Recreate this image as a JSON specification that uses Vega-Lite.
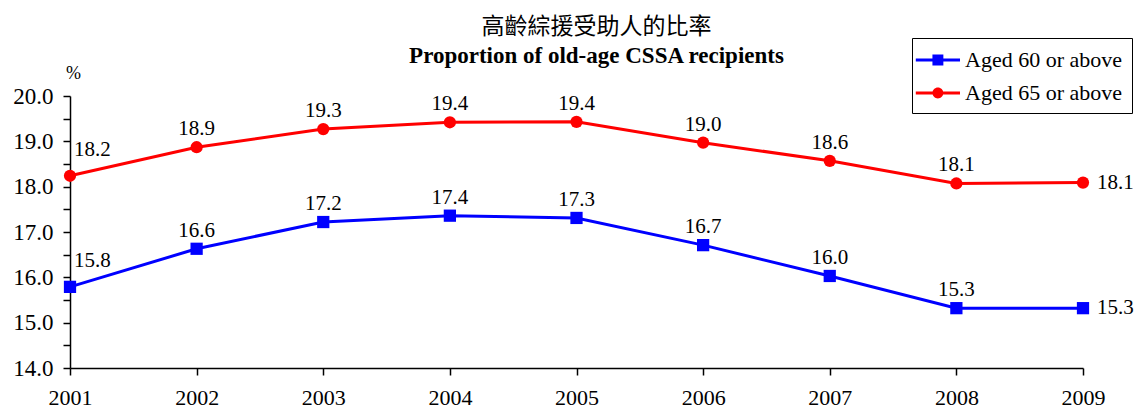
{
  "$schema": "https://vega.github.io/schema/vega-lite/v6.json",
  "width": 1013,
  "height": 272,
  "autosize": {"type": "none"},
  "padding": {"left": 70, "top": 96, "right": 62, "bottom": 44},
  "background": "white",
  "config": {
    "view": {"stroke": null},
    "font": "Liberation Serif, Times New Roman, serif"
  },
  "title": {
    "text": "高齡綜援受助人的比率",
    "subtitle": "Proportion of old-age CSSA recipients",
    "anchor": "middle",
    "dx": 20,
    "offset": -30,
    "font": "Noto Sans CJK TC",
    "fontSize": 23,
    "fontWeight": "normal",
    "color": "black",
    "subtitleFont": "Liberation Serif, Times New Roman, serif",
    "subtitleFontSize": 23,
    "subtitleFontWeight": "bold",
    "subtitleColor": "black",
    "subtitlePadding": 6
  },
  "data": {
    "values": [
      {"year": 2001, "series": "Aged 60 or above", "value": 15.79},
      {"year": 2002, "series": "Aged 60 or above", "value": 16.63},
      {"year": 2003, "series": "Aged 60 or above", "value": 17.22},
      {"year": 2004, "series": "Aged 60 or above", "value": 17.36},
      {"year": 2005, "series": "Aged 60 or above", "value": 17.31},
      {"year": 2006, "series": "Aged 60 or above", "value": 16.71},
      {"year": 2007, "series": "Aged 60 or above", "value": 16.03},
      {"year": 2008, "series": "Aged 60 or above", "value": 15.32},
      {"year": 2009, "series": "Aged 60 or above", "value": 15.32},
      {"year": 2001, "series": "Aged 65 or above", "value": 18.24},
      {"year": 2002, "series": "Aged 65 or above", "value": 18.87},
      {"year": 2003, "series": "Aged 65 or above", "value": 19.27},
      {"year": 2004, "series": "Aged 65 or above", "value": 19.42},
      {"year": 2005, "series": "Aged 65 or above", "value": 19.43},
      {"year": 2006, "series": "Aged 65 or above", "value": 18.97},
      {"year": 2007, "series": "Aged 65 or above", "value": 18.57},
      {"year": 2008, "series": "Aged 65 or above", "value": 18.07},
      {"year": 2009, "series": "Aged 65 or above", "value": 18.09}
    ]
  },
  "encoding": {
    "x": {
      "field": "year",
      "type": "quantitative",
      "scale": {"domain": [2001, 2009], "nice": false, "zero": false},
      "axis": {
        "title": null,
        "values": [2001, 2002, 2003, 2004, 2005, 2006, 2007, 2008, 2009],
        "format": "d",
        "grid": false,
        "domainColor": "black",
        "domainWidth": 1.5,
        "tickColor": "black",
        "tickWidth": 1.5,
        "tickSize": 7,
        "labelPadding": 12,
        "labelFont": "Liberation Serif, Times New Roman, serif",
        "labelFontSize": 22,
        "labelColor": "black",
        "labelFlush": false,
        "labelOverlap": false
      }
    },
    "y": {
      "field": "value",
      "type": "quantitative",
      "scale": {"domain": [14, 20], "nice": false, "zero": false},
      "axis": {
        "title": "%",
        "titleAngle": 0,
        "titleX": 3,
        "titleY": -23,
        "titleAlign": "center",
        "titleBaseline": "middle",
        "titleFont": "Liberation Serif, Times New Roman, serif",
        "titleFontSize": 18,
        "titleFontWeight": "normal",
        "titleColor": "black",
        "values": [14, 14.5, 15, 15.5, 16, 16.5, 17, 17.5, 18, 18.5, 19, 19.5, 20],
        "labelExpr": "datum.value % 1 === 0 ? format(datum.value, '.1f') : ''",
        "grid": false,
        "domainColor": "black",
        "domainWidth": 1.5,
        "tickColor": "black",
        "tickWidth": 1.5,
        "tickSize": 7,
        "labelPadding": 10,
        "labelFont": "Liberation Serif, Times New Roman, serif",
        "labelFontSize": 23,
        "labelColor": "black",
        "labelOverlap": false,
        "labelFlush": false
      }
    }
  },
  "layer": [
    {
      "transform": [{"filter": "datum.series === 'Aged 60 or above'"}],
      "mark": {"type": "line", "strokeWidth": 3, "color": "#0000FF"}
    },
    {
      "transform": [{"filter": "datum.series === 'Aged 65 or above'"}],
      "mark": {"type": "line", "strokeWidth": 3, "color": "#FF0000"}
    },
    {
      "transform": [{"filter": "datum.series === 'Aged 60 or above'"}],
      "mark": {"type": "point", "shape": "square", "filled": true, "size": 150, "opacity": 1, "color": "#0000FF"}
    },
    {
      "transform": [{"filter": "datum.series === 'Aged 65 or above'"}],
      "mark": {"type": "point", "shape": "circle", "filled": true, "size": 150, "opacity": 1, "color": "#FF0000"}
    },
    {
      "mark": {"type": "point", "filled": true, "size": 676, "opacity": 0, "strokeWidth": 0},
      "encoding": {
        "color": {
          "field": "series",
          "type": "nominal",
          "scale": {"domain": ["Aged 60 or above", "Aged 65 or above"], "range": ["#0000FF", "#FF0000"]},
          "legend": {
            "title": null,
            "orient": "none",
            "legendX": 842,
            "legendY": -58,
            "padding": 9,
            "strokeColor": "black",
            "fillColor": "white",
            "symbolSize": 676,
            "symbolStrokeWidth": 0,
            "labelOffset": 18,
            "rowPadding": 9,
            "labelFont": "Liberation Serif, Times New Roman, serif",
            "labelFontSize": 22,
            "labelColor": "black",
            "labelLimit": 300,
            "encode": {"symbols": {"update": {"opacity": {"value": 1}}}}
          }
        },
        "shape": {
          "field": "series",
          "type": "nominal",
          "scale": {
            "domain": ["Aged 60 or above", "Aged 65 or above"],
            "range": [
              "M-1.4,-0.115H2V0.115H-1.4Z M-0.12,-0.42H0.72V0.42H-0.12Z",
              "M-1.4,-0.115H2V0.115H-1.4Z M0.72,0A0.42,0.42 0 1,1 -0.12,0A0.42,0.42 0 1,1 0.72,0Z"
            ]
          },
          "legend": {
            "title": null,
            "orient": "none",
            "legendX": 842,
            "legendY": -58,
            "padding": 9,
            "strokeColor": "black",
            "fillColor": "white",
            "symbolSize": 676,
            "symbolStrokeWidth": 0,
            "labelOffset": 18,
            "rowPadding": 9,
            "labelFont": "Liberation Serif, Times New Roman, serif",
            "labelFontSize": 22,
            "labelColor": "black",
            "labelLimit": 300,
            "encode": {"symbols": {"update": {"opacity": {"value": 1}}}}
          }
        }
      }
    },
    {
      "transform": [{"filter": "datum.year > 2001 && datum.year < 2009"}],
      "mark": {"type": "text", "baseline": "middle", "align": "center", "dy": -18, "fontSize": 21, "font": "Liberation Serif, Times New Roman, serif", "color": "black"},
      "encoding": {"text": {"field": "value", "type": "quantitative", "format": ".1f"}}
    },
    {
      "transform": [{"filter": "datum.year === 2001"}],
      "mark": {"type": "text", "baseline": "middle", "align": "left", "dx": 4, "dy": -26, "fontSize": 21, "font": "Liberation Serif, Times New Roman, serif", "color": "black"},
      "encoding": {"text": {"field": "value", "type": "quantitative", "format": ".1f"}}
    },
    {
      "transform": [{"filter": "datum.year === 2009"}],
      "mark": {"type": "text", "baseline": "middle", "align": "left", "dx": 14, "dy": 0, "fontSize": 21, "font": "Liberation Serif, Times New Roman, serif", "color": "black"},
      "encoding": {"text": {"field": "value", "type": "quantitative", "format": ".1f"}}
    }
  ]
}
